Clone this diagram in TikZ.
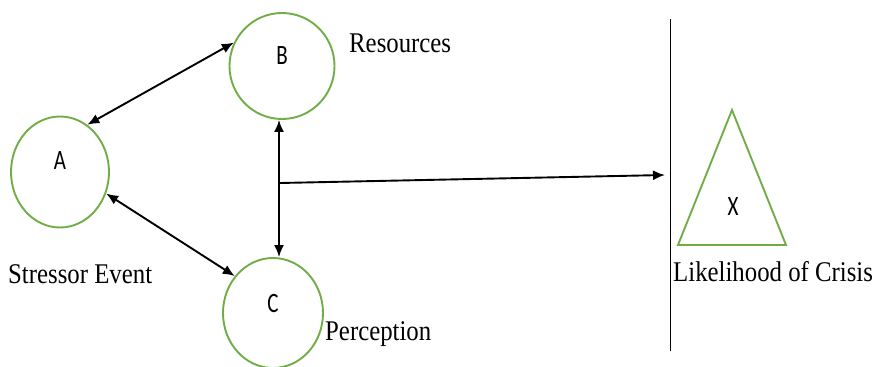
\documentclass[tikz,border=0pt]{standalone}
\usepackage{fontspec}
\setmainfont{Liberation Serif}
\newfontfamily\letterfont{Carlito}
\usetikzlibrary{shapes.geometric,arrows.meta}
\definecolor{leaf}{RGB}{112,173,71}
\newcommand{\tallletter}[1]{\scalebox{0.75}[1]{#1}}
\newcommand{\tallcaption}[1]{\scalebox{1}[1.15]{#1}}
\tikzset{
  bubble/.style={ellipse, draw=leaf, line width=1.9pt, inner sep=0pt},
  letter/.style={font=\letterfont\fontsize{28}{28}\selectfont, inner sep=0pt},
  caption/.style={font=\fontsize{24.8}{26}\selectfont, inner sep=0pt, anchor=base west},
  link/.style={line width=1.9pt, {Latex[length=12pt,width=10pt]}-{Latex[length=12pt,width=10pt]}},
  oneway/.style={line width=1.9pt, -{Latex[length=12pt,width=10pt]}}
}
\begin{document}
\begin{tikzpicture}[x=1pt,y=-1pt]
\useasboundingbox (0,0) rectangle (876,367);

% factors
\node[bubble, minimum width=98pt, minimum height=111pt] (A) at (60,172) {};
\node[bubble, minimum width=105pt, minimum height=106pt] (B) at (282,66) {};
\node[bubble, minimum width=100pt, minimum height=110pt] (C) at (273,313) {};

\node[letter] (la) at (60,161) {\tallletter{A}};
\node[letter] (lb) at (282,56) {\tallletter{B}};
\node[letter] (lc) at (273,304) {\tallletter{C}};

% captions
\node[caption] (res) at (349,52) {\tallcaption{Resources}};
\node[caption] (str) at (8,283) {\tallcaption{Stressor Event}};
\node[caption] (per) at (325,340) {\tallcaption{Perception}};
\node[caption] (lik) at (673,281) {\tallcaption{Likelihood of Crisis}};

% mutual links
\draw[link] (A.60) -- (B.154);
\draw[link] (A.-25) -- (C.136);
\draw[link] ([xshift=-3pt]B.south) -- ([xshift=6pt]C.north);

% divider
\coordinate (dtop) at (670,19);
\coordinate (dbot) at (670,351);
\draw[line width=0.9pt] (dtop) -- (dbot);

% combined effect
\coordinate (join) at (280,183);
\coordinate (hit) at (665,175);
\draw[oneway] (join) -- (hit);

% outcome
\coordinate (tA) at (732,110);
\coordinate (tL) at (678,245);
\coordinate (tR) at (786,245);
\draw[leaf, line width=1.9pt, line join=miter] (tA) -- (tL) -- (tR) -- cycle;
\node[letter] (lx) at (733,207) {\tallletter{X}};
\end{tikzpicture}
\end{document}
